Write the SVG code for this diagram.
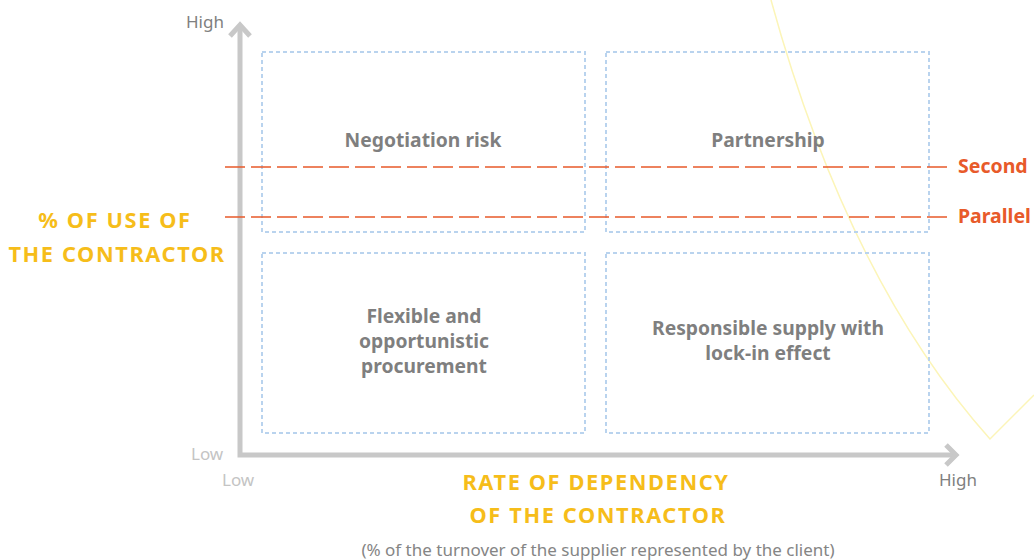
<svg xmlns="http://www.w3.org/2000/svg" width="1034" height="560" viewBox="0 0 1034 560">
<style>
.box{fill:none;stroke:#b9d3ee;stroke-width:2;stroke-dasharray:4 3}
.lbl{font-family:"Source Sans Pro","Noto Sans","Open Sans",sans-serif;font-weight:700;font-size:19.3px;fill:#7f7f7f;text-anchor:middle}
.axis{fill:none;stroke:#c8c8c8;stroke-width:5}
.ah{fill:none;stroke:#c8c8c8;stroke-width:5;stroke-linejoin:miter}
.tick{font-family:"Source Sans Pro","Noto Sans","Open Sans",sans-serif;font-size:17px}
.ttl{font-family:"Source Sans Pro","Noto Sans","Open Sans",sans-serif;font-weight:700;font-size:21.8px;fill:#f6bd1a;text-anchor:middle;letter-spacing:1.6px}
.red{stroke:#e85a2a;stroke-width:1.5;stroke-dasharray:20 6;fill:none}
.redt{font-family:"Source Sans Pro","Noto Sans","Open Sans",sans-serif;font-weight:700;font-size:19.5px;fill:#e85a2a}
</style>
<rect width="1034" height="560" fill="#ffffff"/>
<path d="M771,0 Q848,280 990,439 L1034,395" fill="none" stroke="#fcf5b8" stroke-width="1.5"/>
<g id="quadrant-negotiation"><rect class="box" x="262" y="52" width="323" height="180"/><text class="lbl" x="423" y="147">Negotiation risk</text></g>
<g id="quadrant-partnership"><rect class="box" x="606" y="52" width="323" height="180"/><text class="lbl" x="768" y="147">Partnership</text></g>
<g id="quadrant-flexible"><rect class="box" x="262" y="253" width="323" height="180"/><text class="lbl" x="424" y="323">Flexible and</text><text class="lbl" x="424" y="348">opportunistic</text><text class="lbl" x="424" y="373">procurement</text></g>
<g id="quadrant-responsible"><rect class="box" x="606" y="253" width="323" height="180"/><text class="lbl" x="768" y="335">Responsible supply with</text><text class="lbl" x="768" y="360">lock-in effect</text></g>
<g id="connectors">
<path class="axis" d="M240,27 L240,455 L955,455"/>
<path class="ah" d="M230,36 L240,25 L250,36"/>
<path class="ah" d="M946,445 L956,455 L946,465"/>
<line class="red" x1="225" y1="167" x2="952" y2="167"/>
<line class="red" x1="225" y1="217" x2="952" y2="217"/>
</g>
<g id="labels">
<text class="tick" x="186" y="28" fill="#808080">High</text>
<text class="tick" x="191" y="460" fill="#c4c4c4">Low</text>
<text class="tick" x="222" y="486" fill="#c4c4c4">Low</text>
<text class="tick" x="939" y="486" fill="#808080">High</text>
<text class="redt" x="958" y="173">Second</text>
<text class="redt" x="958" y="223">Parallel</text>
<text class="ttl" x="115" y="228">% OF USE OF</text>
<text class="ttl" x="117" y="262">THE CONTRACTOR</text>
<text class="ttl" x="596" y="490">RATE OF DEPENDENCY</text>
<text class="ttl" x="598" y="523">OF THE CONTRACTOR</text>
<text x="598" y="556" font-family="'Source Sans Pro','Noto Sans','Open Sans',sans-serif" font-size="17" fill="#858585" text-anchor="middle">(% of the turnover of the supplier represented by the client)</text>
</g>
</svg>
